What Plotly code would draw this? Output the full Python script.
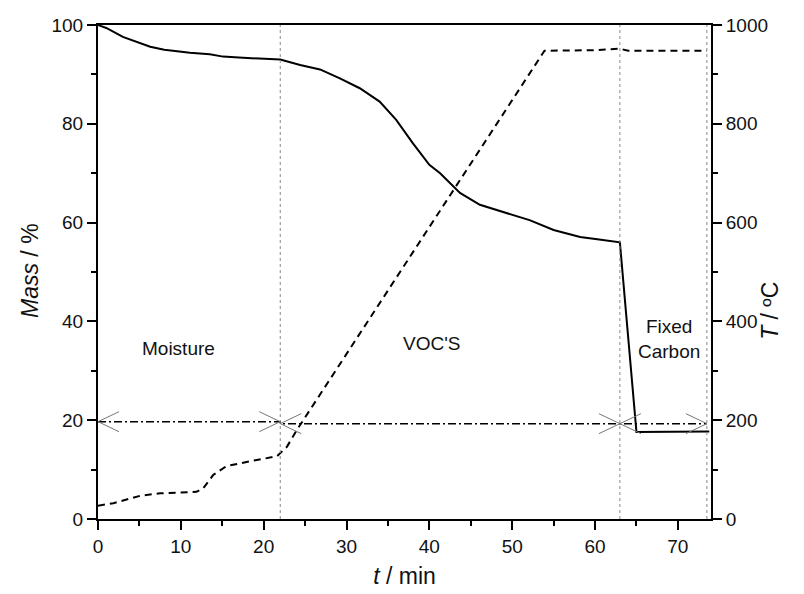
import plotly.graph_objects as go

# ---- data ----
time_mass = [0, 1, 3, 5, 6.3, 8, 11.1, 13.5, 15.1, 17, 19.2, 22, 24.4, 26.8, 29.2, 31.6,
             34, 36, 38, 40, 41.3, 42.1, 43.7, 46.1, 49.3, 52.1, 55, 58.2, 60.5, 63, 65, 69, 73.8]
mass = [100, 99.4, 97.6, 96.4, 95.6, 95.0, 94.4, 94.1, 93.6, 93.4, 93.2, 93.0, 91.9, 91.0, 89.2, 87.2,
        84.5, 80.8, 76.1, 71.7, 70.0, 68.6, 66.0, 63.6, 61.9, 60.5, 58.5, 57.1, 56.6, 56.0, 17.6, 17.6, 17.7]

time_temp = [0, 1.85, 5.1, 7.5, 11.9, 12.7, 13.9, 15.5, 18.7, 21.6, 22.8, 24.0, 53.9, 60, 63, 64, 73.5]
temp = [27, 32, 47, 52, 55, 62, 89, 107, 118, 127, 146, 180, 948, 949, 952, 948, 948]

stage_bounds = [0, 22, 63, 73.5]
stage_levels = [19.7, 19.3, 19.3]
stage_labels = ["Moisture", "VOC'S", "Fixed<br>Carbon"]
label_x = [9.7, 40.3, 68.9]
label_y = [34.6, 35.6, 36.4]

x_ticks = [0, 10, 20, 30, 40, 50, 60, 70]
y_ticks = [0, 20, 40, 60, 80, 100]
y2_ticks = [0, 200, 400, 600, 800, 1000]

FONT = "Liberation Sans, Arial, sans-serif"

fig = go.Figure()

fig.add_trace(go.Scatter(x=time_mass, y=mass, mode="lines",
                         line=dict(color="black", width=2), showlegend=False))
fig.add_trace(go.Scatter(x=time_temp, y=temp, mode="lines", yaxis="y2",
                         line=dict(color="black", width=2, dash="7px,5px"), showlegend=False))

# dash-dot stage lines
sx, sy = [], []
for i in range(len(stage_levels)):
    sx += [stage_bounds[i], stage_bounds[i + 1]]
    sy += [stage_levels[i], stage_levels[i]]
fig.add_trace(go.Scatter(x=sx, y=sy, mode="lines",
                         line=dict(color="black", width=1.5, dash="8px,3px,2px,3px"), showlegend=False))

shapes = []
# dotted vertical boundaries
for b in stage_bounds[1:]:
    shapes.append(dict(type="line", xref="x", yref="paper", x0=b, x1=b, y0=0, y1=1,
                       line=dict(color="#888", width=1, dash="dot")))
# open arrowheads
for i in range(len(stage_levels)):
    lvl = stage_levels[i]
    for anchor, sgn in ((stage_bounds[i], 1), (stage_bounds[i + 1], -1)):
        for dy in (10, -10):
            shapes.append(dict(type="line", xref="x", yref="y",
                               xsizemode="pixel", xanchor=anchor, x0=0, x1=sgn * 21,
                               ysizemode="pixel", yanchor=lvl, y0=0, y1=dy,
                               line=dict(color="#777", width=1)))

annotations = []
for t, x, y in zip(stage_labels, label_x, label_y):
    annotations.append(dict(x=x, y=y, xref="x", yref="y", text=t, showarrow=False,
                            font=dict(family=FONT, size=19, color="#111")))
# y-axis titles
annotations.append(dict(x=-0.111, y=0.504, xref="paper", yref="paper", text="<i>Mass</i> / %",
                        textangle=-90, showarrow=False, xanchor="center", yanchor="middle",
                        font=dict(family=FONT, size=23, color="#111")))
annotations.append(dict(x=1.096, y=0.421, xref="paper", yref="paper", text="<i>T</i> / ºC",
                        textangle=-90, showarrow=False, xanchor="center", yanchor="middle",
                        font=dict(family=FONT, size=23, color="#111")))

axis_common = dict(showgrid=False, zeroline=False, showline=True, linecolor="black", linewidth=2,
                   ticks="outside", ticklen=9, tickwidth=2, tickcolor="black", automargin=False,
                   tickfont=dict(family=FONT, size=19, color="#111"))

# page body has an 8px margin; compensate so the plot area lands where the reference's does
fig.update_layout(
    width=796, height=586,
    margin=dict(l=90, r=93, t=17, b=75),
    paper_bgcolor="white", plot_bgcolor="white",
    font=dict(family=FONT, color="#111"),
    xaxis=dict(range=[0, 74], tickvals=x_ticks, mirror=True,
               minor=dict(dtick=5, tick0=0, ticks="outside", ticklen=5, tickwidth=2, tickcolor="black"),
               title=dict(text="<i>t</i> / min", font=dict(family=FONT, size=23), standoff=12),
               **axis_common),
    yaxis=dict(range=[0, 100], tickvals=y_ticks, mirror=False,
               minor=dict(dtick=10, tick0=0, ticks="outside", ticklen=5, tickwidth=2, tickcolor="black"),
               **axis_common),
    yaxis2=dict(range=[0, 1000], tickvals=y2_ticks, overlaying="y", side="right",
                minor=dict(dtick=100, tick0=0, ticks="outside", ticklen=5, tickwidth=2, tickcolor="black"),
                **axis_common),
    shapes=shapes,
    annotations=annotations,
)

fig.write_html("out.html")
